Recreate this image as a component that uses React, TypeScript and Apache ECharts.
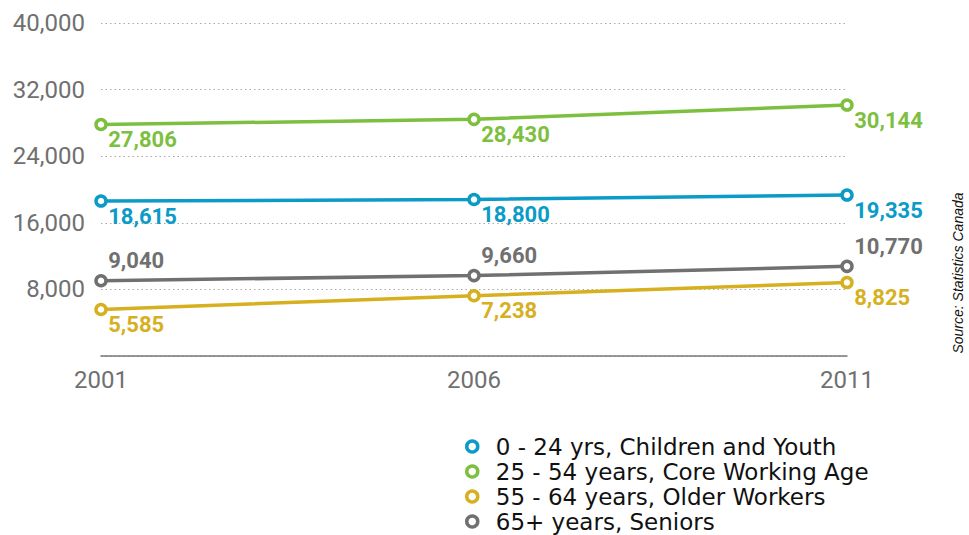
import React, { useEffect, useRef } from "react";
import * as echarts from "echarts";

const years = ["2001", "2006", "2011"];
const youth = [18615, 18800, 19335];
const core = [27806, 28430, 30144];
const older = [5585, 7238, 8825];
const seniors = [9040, 9660, 10770];

const names = [
  "0 - 24 yrs, Children and Youth",
  "25 - 54 years, Core Working Age",
  "55 - 64 years, Older Workers",
  "65+ years, Seniors",
];
const colors = ["#0b9bc7", "#7dbf3f", "#d6b01f", "#707070"];

export default function App() {
  const ref = useRef<HTMLDivElement>(null);
  useEffect(() => {
    if (!ref.current) return;
    const chart = echarts.init(ref.current, null, { renderer: "svg" });
    const mk = (name: string, data: number[], color: string, above: boolean) => ({
      name,
      type: "line",
      data,
      symbol: "circle",
      symbolSize: 10,
      showSymbol: true,
      color,
      lineStyle: { width: 3.5, color },
      itemStyle: { color: "#fff", borderColor: color, borderWidth: 3.5 },
      label: {
        show: true,
        position: above ? [14, -13] : [14, 22],
        align: "left",
        verticalAlign: "middle",
        color,
        fontFamily: "Roboto",
        fontWeight: "bold",
        fontSize: 22,
        formatter: (p: any) => p.value.toLocaleString("en-US"),
      },
      emphasis: { disabled: true },
    });
    chart.setOption({
      animation: false,
      grid: { left: 101, right: 122, top: 23, bottom: 179, containLabel: false },
      xAxis: {
        type: "category",
        data: years,
        boundaryGap: false,
        axisLine: { lineStyle: { color: "#777", width: 1.5 } },
        axisTick: { show: false },
        axisLabel: { color: "#707070", fontFamily: "Roboto", fontSize: 24, margin: 12 },
      },
      yAxis: {
        type: "value",
        min: 0,
        max: 40000,
        interval: 8000,
        axisLine: { show: false },
        axisTick: { show: false },
        splitLine: { lineStyle: { color: "#aaa", type: [1.5, 3], width: 1 } },
        axisLabel: {
          color: "#707070",
          fontFamily: "Roboto",
          fontSize: 24,
          margin: 16,
          formatter: (v: number) => (v === 0 ? "" : v.toLocaleString("en-US")),
        },
      },
      legend: {
        orient: "vertical",
        left: 460,
        top: 430,
        height: 110,
        icon: "circle",
        itemWidth: 11,
        itemHeight: 11,
        itemGap: 2,
        itemStyle: { borderWidth: 3.5 },
        textStyle: {
          fontFamily: "DejaVu Sans",
          fontSize: 23,
          lineHeight: 22,
          color: "#111",
          padding: [0, 0, 0, 13],
        },
        data: names,
      },
      graphic: [
        {
          type: "text",
          x: 958,
          y: 273,
          rotation: Math.PI / 2,
          style: {
            text: "Source: Statistics Canada",
            font: "italic 14px 'Liberation Sans'",
            fill: "#111",
            align: "center",
            verticalAlign: "middle",
          },
        },
      ],
      series: [
        mk(names[0], youth, colors[0], false),
        mk(names[1], core, colors[1], false),
        mk(names[2], older, colors[2], false),
        mk(names[3], seniors, colors[3], true),
      ],
    });
    return () => chart.dispose();
  }, []);
  return <div ref={ref} style={{ width: 969, height: 535, position: "absolute", left: 0, top: 0 }} />;
}
